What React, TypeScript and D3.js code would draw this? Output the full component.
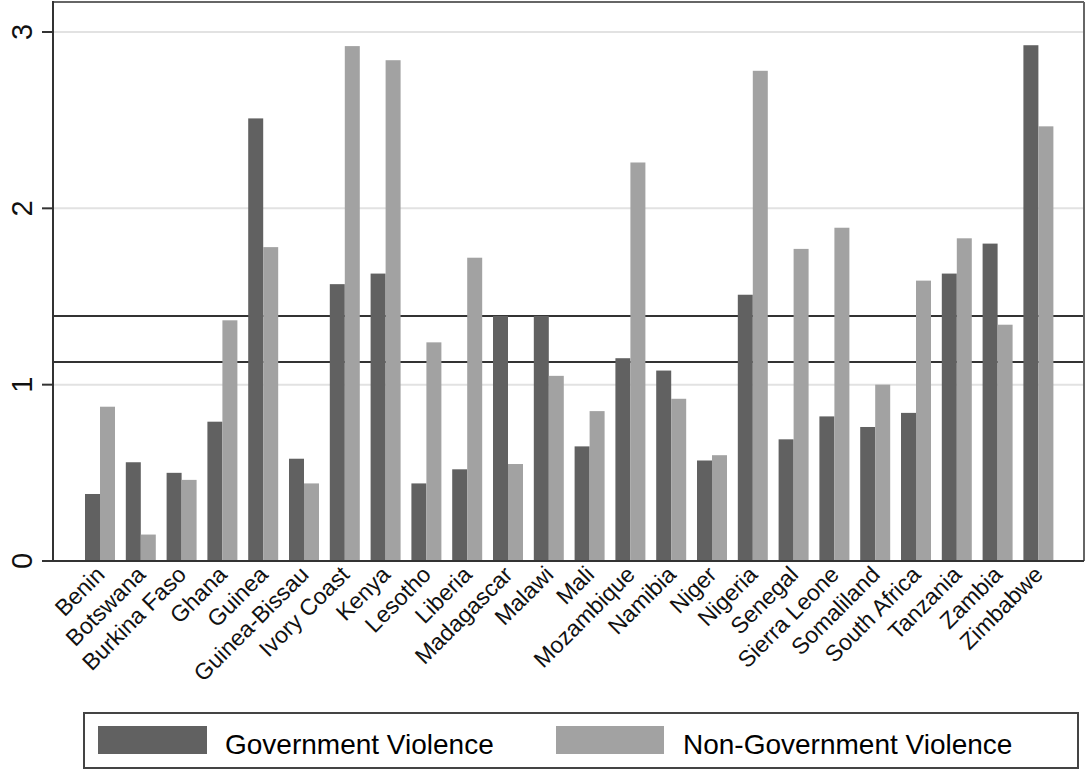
import React from "react";
import * as d3 from "d3";

const countries = [
  "Benin", "Botswana", "Burkina Faso", "Ghana", "Guinea", "Guinea-Bissau",
  "Ivory Coast", "Kenya", "Lesotho", "Liberia", "Madagascar", "Malawi",
  "Mali", "Mozambique", "Namibia", "Niger", "Nigeria", "Senegal",
  "Sierra Leone", "Somaliland", "South Africa", "Tanzania", "Zambia", "Zimbabwe",
];
const governmentViolence = [
  0.38, 0.56, 0.50, 0.79, 2.51, 0.58, 1.57, 1.63, 0.44, 0.52, 1.39, 1.39,
  0.65, 1.15, 1.08, 0.57, 1.51, 0.69, 0.82, 0.76, 0.84, 1.63, 1.80, 2.925,
];
const nonGovernmentViolence = [
  0.875, 0.15, 0.46, 1.365, 1.78, 0.44, 2.92, 2.84, 1.24, 1.72, 0.55, 1.05,
  0.85, 2.26, 0.92, 0.60, 2.78, 1.77, 1.89, 1.00, 1.59, 1.83, 1.34, 2.465,
];
const referenceLines = [1.39, 1.128];
const yTicks = [0, 1, 2, 3];
const gridTicks = [1, 2, 3];
const seriesKeys = ["gov", "non"];
const seriesLabels = ["Government Violence", "Non-Government Violence"];

const W = 1086;
const H = 770;
const plotLeft = 53;
const plotRight = 1084;
const plotTop = 2;
const plotBottom = 561;
const DARK = "#616161";
const LIGHT = "#a2a2a2";
const FONT = "'Liberation Sans', Arial, Helvetica, sans-serif";

export default function App() {
  const x0 = d3
    .scaleBand<string>()
    .domain(countries)
    .range([79.6, 1058.8])
    .paddingInner(0.265)
    .paddingOuter(0.1325);
  const x1 = d3
    .scaleBand<string>()
    .domain(seriesKeys)
    .range([0, x0.bandwidth()])
    .padding(0);
  const y = d3.scaleLinear().domain([0, 3]).range([plotBottom, 32]);
  const color = d3.scaleOrdinal<string, string>().domain(seriesKeys).range([DARK, LIGHT]);

  const rows = countries.map((c, i) => ({
    country: c,
    gov: governmentViolence[i],
    non: nonGovernmentViolence[i],
  }));

  return (
    <svg
      width={W}
      height={H}
      style={{ position: "absolute", left: 0, top: 0, background: "#fff" }}
      fontFamily={FONT}
    >
      <rect x={0} y={0} width={W} height={H} fill="#fff" />
      {/* frame */}
      <line x1={plotLeft} x2={plotRight} y1={plotTop} y2={plotTop} stroke="#666" strokeWidth={2} />
      <line x1={plotRight} x2={plotRight} y1={plotTop} y2={plotBottom} stroke="#666" strokeWidth={2} />
      {/* gridlines */}
      {gridTicks.map((t) => (
        <line key={t} x1={plotLeft} x2={plotRight - 1} y1={y(t)} y2={y(t)} stroke="#e2e2e2" strokeWidth={2} />
      ))}
      {/* reference lines */}
      {referenceLines.map((v, i) => (
        <line key={i} x1={plotLeft} x2={plotRight - 1} y1={y(v)} y2={y(v)} stroke="#333" strokeWidth={2} />
      ))}
      {/* bars */}
      {rows.map((r) => (
        <g key={r.country} transform={`translate(${x0(r.country)},0)`}>
          {seriesKeys.map((k) => {
            const v = (r as any)[k] as number;
            return (
              <rect
                key={k}
                x={x1(k)}
                y={y(v)}
                width={x1.bandwidth()}
                height={y(0) - y(v)}
                fill={color(k)}
              />
            );
          })}
        </g>
      ))}
      {/* axes */}
      <line x1={plotLeft} x2={plotRight} y1={plotBottom} y2={plotBottom} stroke="#333" strokeWidth={2} />
      <line x1={plotLeft} x2={plotLeft} y1={plotTop - 1} y2={plotBottom + 1} stroke="#333" strokeWidth={2} />
      {yTicks.map((t) => (
        <g key={t}>
          <line x1={42} x2={plotLeft} y1={y(t)} y2={y(t)} stroke="#333" strokeWidth={2} />
          <text
            transform={`translate(32,${y(t)}) rotate(-90)`}
            textAnchor="middle"
            fontSize={29}
            fill="#111"
          >
            {t}
          </text>
        </g>
      ))}
      {/* x labels */}
      {countries.map((c) => (
        <text
          key={c}
          transform={`translate(${(x0(c) as number) + x0.bandwidth() / 2 + 6},576) rotate(-45)`}
          textAnchor="end"
          fontSize={23}
          fill="#111"
        >
          {c}
        </text>
      ))}
      {/* legend */}
      <rect x={84} y={713} width={994} height={55} fill="#fff" stroke="#444" strokeWidth={2} />
      <rect x={98} y={726} width={109} height={28} fill={DARK} />
      <text x={225} y={754} fontSize={28} fill="#000">{seriesLabels[0]}</text>
      <rect x={556} y={726} width={108} height={28} fill={LIGHT} />
      <text x={683} y={754} fontSize={28} fill="#000">{seriesLabels[1]}</text>
    </svg>
  );
}
